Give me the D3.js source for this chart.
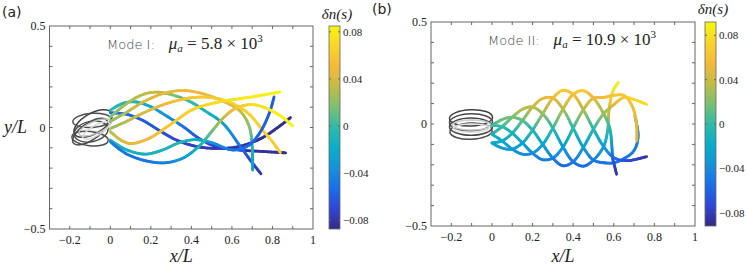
<!DOCTYPE html>
<html>
<head>
<meta charset="utf-8">
<script src="https://cdn.jsdelivr.net/npm/d3@7"></script>
<style>
  body { margin: 0; background: #fff; }
  text { fill: #222; }
</style>
</head>
<body>
<svg id="chart" width="748" height="266"></svg>
<script>
// ---- data: each point is [x/L, y/L, dn(s)] ----
const xTicks = [-0.2, 0, 0.2, 0.4, 0.6, 0.8, 1];
const yTicks = [-0.5, 0, 0.5];
const cbTicks = [-0.08, -0.04, 0, 0.04, 0.08];

// Mode I snapshots
const curvesA = [
  [[0,0.072,-0.05],[0.076,0.066,-0.055],[0.158,0.036,-0.06],[0.239,-0.013,-0.065],[0.32,-0.059,-0.07],[0.418,-0.092,-0.075],[0.515,-0.103,-0.08],[0.629,-0.095,-0.082],[0.743,-0.054,-0.084],[0.841,0.011,-0.085],[0.889,0.049,-0.085]],
  [[0,0.085,-0.005],[0.06,0.118,-0.008],[0.125,0.126,-0.01],[0.2,0.102,-0.02],[0.28,0.055,-0.035],[0.361,0.003,-0.05],[0.44,-0.055,-0.065],[0.524,-0.095,-0.075],[0.637,-0.111,-0.08],[0.75,-0.118,-0.083],[0.865,-0.125,-0.085]],
  [[0,0.052,0.015],[0.07,0.11,0.025],[0.15,0.158,0.032],[0.22,0.174,0.035],[0.3,0.162,0.02],[0.393,0.128,0.0],[0.47,0.08,-0.01],[0.556,0.02,-0.025],[0.637,-0.087,-0.05],[0.69,-0.16,-0.07],[0.743,-0.228,-0.08]],
  [[0,0.03,0.02],[0.08,0.075,0.03],[0.17,0.13,0.04],[0.27,0.17,0.045],[0.361,0.182,0.05],[0.45,0.168,0.048],[0.524,0.143,0.044],[0.6,0.108,0.04],[0.646,0.075,0.035],[0.686,0.003,0.02],[0.7,-0.095,-0.005],[0.702,-0.21,-0.03]],
  [[0,-0.005,0.02],[0.08,0.03,0.03],[0.17,0.075,0.04],[0.27,0.115,0.05],[0.36,0.14,0.055],[0.45,0.15,0.06],[0.54,0.14,0.062],[0.62,0.11,0.064],[0.686,0.065,0.065],[0.751,-0.013,0.065],[0.8,-0.07,0.064],[0.839,-0.124,0.063]],
  [[0,-0.02,0.03],[0.052,-0.062,0.04],[0.101,-0.079,0.045],[0.19,-0.054,0.05],[0.304,0.02,0.06],[0.41,0.09,0.066],[0.548,0.128,0.072],[0.694,0.15,0.08],[0.837,0.175,0.085]],
  [[0,-0.062,-0.01],[0.08,-0.11,-0.012],[0.174,-0.131,-0.012],[0.26,-0.11,-0.01],[0.34,-0.075,-0.005],[0.42,-0.06,-0.015],[0.5,-0.075,-0.035],[0.605,-0.111,-0.05],[0.68,-0.09,-0.055],[0.735,-0.03,-0.058],[0.784,0.069,-0.06],[0.808,0.151,-0.06]],
  [[0,-0.07,-0.045],[0.08,-0.13,-0.05],[0.18,-0.165,-0.05],[0.272,-0.174,-0.045],[0.36,-0.15,-0.03],[0.44,-0.09,-0.01],[0.5,-0.02,0.01],[0.56,0.05,0.035],[0.62,0.095,0.055],[0.7,0.113,0.07],[0.78,0.09,0.078],[0.85,0.05,0.083],[0.899,0.007,0.085]]
];

// Mode II snapshots
const curvesB = [
  [[0,-0.05,-0.01],[0.05,-0.013,0.001],[0.1,0.033,0.018],[0.15,0.072,0.033],[0.2,0.083,0.037],[0.25,0.05,0.024],[0.3,-0.02,-0.001],[0.35,-0.113,-0.029],[0.4,-0.185,-0.05],[0.45,-0.207,-0.057],[0.5,-0.177,-0.048],[0.55,-0.11,-0.028],[0.57,-0.03,0.0],[0.575,0.05,0.035],[0.585,0.12,0.065],[0.6,0.17,0.082],[0.622,0.203,0.09]],
  [[0,-0.093,-0.023],[0.05,-0.083,-0.02],[0.1,-0.045,-0.009],[0.15,0.017,0.012],[0.2,0.083,0.037],[0.25,0.125,0.052],[0.3,0.127,0.053],[0.35,0.073,0.033],[0.4,-0.02,-0.001],[0.45,-0.115,-0.03],[0.5,-0.177,-0.048],[0.55,-0.19,-0.052],[0.6,-0.19,-0.052],[0.65,-0.17,-0.05],[0.7,-0.13,-0.048],[0.72,-0.06,-0.047],[0.704,0.039,-0.045]],
  [[0,-0.093,-0.023],[0.05,-0.118,-0.03],[0.1,-0.123,-0.032],[0.15,-0.093,-0.023],[0.2,-0.03,-0.004],[0.25,0.05,0.024],[0.3,0.127,0.053],[0.35,0.165,0.068],[0.4,0.145,0.06],[0.45,0.07,0.032],[0.5,-0.025,-0.003],[0.55,-0.11,-0.028],[0.6,-0.165,-0.05],[0.663,-0.18,-0.07],[0.762,-0.16,-0.085]],
  [[0,-0.05,-0.01],[0.05,-0.083,-0.02],[0.1,-0.123,-0.032],[0.15,-0.148,-0.039],[0.2,-0.143,-0.038],[0.25,-0.1,-0.025],[0.3,-0.02,-0.001],[0.35,0.073,0.033],[0.4,0.145,0.06],[0.45,0.163,0.067],[0.5,0.127,0.053],[0.55,0.05,0.024],[0.58,-0.02,0.0],[0.59,-0.1,-0.03],[0.595,-0.17,-0.06],[0.605,-0.21,-0.075],[0.614,-0.247,-0.085]],
  [[0,-0.007,0.003],[0.05,-0.013,0.001],[0.1,-0.045,-0.009],[0.15,-0.093,-0.023],[0.2,-0.143,-0.038],[0.25,-0.175,-0.048],[0.3,-0.167,-0.045],[0.35,-0.113,-0.029],[0.4,-0.02,-0.001],[0.45,0.07,0.032],[0.5,0.127,0.053],[0.55,0.13,0.056],[0.6,0.14,0.062],[0.65,0.14,0.066],[0.69,0.09,0.06],[0.712,0.0,0.05],[0.713,-0.083,0.045]],
  [[0,-0.007,0.003],[0.05,0.022,0.014],[0.1,0.033,0.018],[0.15,0.017,0.012],[0.2,-0.03,-0.004],[0.25,-0.1,-0.025],[0.3,-0.167,-0.045],[0.35,-0.205,-0.057],[0.4,-0.185,-0.05],[0.45,-0.115,-0.03],[0.5,-0.025,-0.003],[0.55,0.05,0.024],[0.6,0.095,0.045],[0.65,0.13,0.065],[0.7,0.12,0.074],[0.762,0.096,0.08]]
];

// cell body outlines: [cx, cy, rx, ry, angle (deg), grey level]
const headsA = [
  [-0.085, 0.02, 0.105, 0.05, 30, 0.25],
  [-0.1, -0.02, 0.1, 0.042, 34, 0.3],
  [-0.09, 0.035, 0.095, 0.035, 4, 0.3],
  [-0.1, -0.055, 0.09, 0.035, -6, 0.3],
  [-0.095, -0.02, 0.085, 0.05, 12, 0.3],
  [-0.075, 0.0, 0.085, 0.03, 22, 0.75],
  [-0.07, -0.015, 0.075, 0.025, 30, 0.85]
];
const headsB = [
  [-0.103, 0.03, 0.106, 0.04, 2, 0.25],
  [-0.103, 0.008, 0.106, 0.042, 1, 0.28],
  [-0.103, -0.013, 0.106, 0.042, 0, 0.28],
  [-0.103, -0.035, 0.104, 0.04, 2, 0.3],
  [-0.1, -0.005, 0.095, 0.025, 0, 0.78],
  [-0.1, -0.02, 0.09, 0.02, 0, 0.88]
];

// ---- parula colour map ----
const parula = d3.piecewise(d3.interpolateRgb, [
  "#352a87", "#2f46d6", "#1a6ee8", "#1492db", "#0aadc9",
  "#2fbaa6", "#7cc072", "#c2bc45", "#f5b93a", "#f9d52a", "#f7f50f"
]);

const svg = d3.select("#chart");

function panel(opt) {
  const x = d3.scaleLinear().domain([-0.3, 1]).range([opt.left, opt.right]);
  const y = d3.scaleLinear().domain([-0.5, 0.5]).range([opt.bottom, opt.top]);
  const col = d3.scaleSequential(parula).domain(opt.cbDomain);
  const g = svg.append("g");

  // box + ticks every 0.1
  const frame = "#666";
  g.append("rect")
    .attr("x", opt.left).attr("y", opt.top)
    .attr("width", opt.right - opt.left).attr("height", opt.bottom - opt.top)
    .attr("fill", "none").attr("stroke", frame).attr("stroke-width", 1);

  const tl = 3;
  const minorX = d3.range(-2, 10).map(i => i / 10);
  const minorY = d3.range(-4, 5).map(i => i / 10);
  minorX.forEach(v => {
    g.append("line").attr("x1", x(v)).attr("x2", x(v)).attr("y1", opt.bottom).attr("y2", opt.bottom - tl).attr("stroke", frame);
    g.append("line").attr("x1", x(v)).attr("x2", x(v)).attr("y1", opt.top).attr("y2", opt.top + tl).attr("stroke", frame);
  });
  minorY.forEach(v => {
    g.append("line").attr("y1", y(v)).attr("y2", y(v)).attr("x1", opt.left).attr("x2", opt.left + tl).attr("stroke", frame);
    g.append("line").attr("y1", y(v)).attr("y2", y(v)).attr("x1", opt.right).attr("x2", opt.right - tl).attr("stroke", frame);
  });

  g.selectAll(".xt").data(xTicks).enter().append("text")
    .attr("x", d => x(d)).attr("y", opt.bottom + 15)
    .attr("text-anchor", "middle")
    .style("font", "12px 'Liberation Serif', serif")
    .text(d => d3.format("")(d));
  g.selectAll(".yt").data(yTicks).enter().append("text")
    .attr("x", opt.left - 4).attr("y", d => y(d) + 4)
    .attr("text-anchor", "end")
    .style("font", "12px 'Liberation Serif', serif")
    .text(d => d3.format("")(d));

  g.append("text")
    .attr("x", (opt.left + opt.right) / 2).attr("y", 262)
    .attr("text-anchor", "middle")
    .style("font", "italic 18px 'Liberation Serif', serif")
    .text("x/L");

  // cell body
  opt.heads.forEach(h => {
    const v = Math.round(255 * h[5]);
    g.append("ellipse")
      .attr("cx", 0).attr("cy", 0)
      .attr("rx", x(h[2]) - x(0)).attr("ry", y(0) - y(h[3]))
      .attr("transform", `translate(${x(h[0])},${y(h[1])}) rotate(${-h[4]})`)
      .attr("fill", "none")
      .attr("stroke", d3.rgb(v, v, v))
      .attr("stroke-width", 1.5);
  });

  // filaments, coloured along their length
  const line = d3.line().x(d => x(d[0])).y(d => y(d[1])).curve(d3.curveCatmullRom.alpha(0.5));
  opt.curves.forEach(c => {
    const tmp = g.append("path").attr("d", line(c)).attr("fill", "none");
    const node = tmp.node();
    const L = node.getTotalLength();
    const cum = [0];
    for (let i = 1; i < c.length; i++) cum.push(cum[i - 1] + Math.hypot(x(c[i][0]) - x(c[i - 1][0]), y(c[i][1]) - y(c[i - 1][1])));
    const cs = d3.scaleLinear().domain(cum.map(v => v / cum[cum.length - 1] * L)).range(c.map(d => d[2]));
    const n = Math.ceil(L / 2);
    let prev = node.getPointAtLength(0);
    for (let k = 1; k <= n; k++) {
      const s = k / n * L;
      const p = node.getPointAtLength(s);
      g.append("line")
        .attr("x1", prev.x).attr("y1", prev.y).attr("x2", p.x).attr("y2", p.y)
        .attr("stroke", col(cs(s - L / n / 2)))
        .attr("stroke-width", 2.8).attr("stroke-linecap", "round");
      prev = p;
    }
    tmp.remove();
  });

  // annotation
  const ann = g.append("text").attr("x", opt.annX).attr("y", opt.top + 23);
  ann.append("tspan").style("font", "13px 'DejaVu Sans', sans-serif").style("font-weight", 300).style("fill", "#444").text(opt.mode);
  ann.append("tspan").attr("dx", 14).style("font", "italic 17px 'Liberation Serif', serif").text("μ");
  ann.append("tspan").attr("dy", 3).style("font", "italic 11px 'Liberation Serif', serif").text("a");
  ann.append("tspan").attr("dy", -3).style("font", "17px 'Liberation Serif', serif").text(" = " + opt.mu + " × 10");
  ann.append("tspan").attr("dy", -7).style("font", "11px 'Liberation Serif', serif").text("3");

  // colour bar
  const cy = d3.scaleLinear().domain(opt.cbDomain).range([opt.bottom, opt.top]);
  const gid = "grad" + opt.id;
  const grad = svg.append("defs").append("linearGradient").attr("id", gid)
    .attr("x1", 0).attr("y1", 1).attr("x2", 0).attr("y2", 0);
  d3.range(0, 1.0001, 0.05).forEach(t => grad.append("stop").attr("offset", t).attr("stop-color", parula(t)));
  g.append("rect").attr("x", opt.cbX).attr("y", opt.top).attr("width", 11).attr("height", opt.bottom - opt.top)
    .attr("fill", `url(#${gid})`).attr("stroke", frame).attr("stroke-width", 0.8);
  cbTicks.forEach(v => {
    g.append("line").attr("x1", opt.cbX).attr("x2", opt.cbX + 2).attr("y1", cy(v)).attr("y2", cy(v)).attr("stroke", frame);
    g.append("line").attr("x1", opt.cbX + 11).attr("x2", opt.cbX + 9).attr("y1", cy(v)).attr("y2", cy(v)).attr("stroke", frame);
    g.append("text").attr("x", opt.cbX + 14).attr("y", cy(v) + 4)
      .style("font", "11px 'Liberation Serif', serif").text(v === 0 ? "0" : d3.format(".2f")(v));
  });
  g.append("text").attr("x", opt.cbX + 8).attr("y", opt.cbLabelY)
    .attr("text-anchor", "middle")
    .style("font", "italic 15px 'Liberation Serif', serif").text("δn(s)");

  g.append("text").attr("x", opt.tagX).attr("y", opt.tagY)
    .style("font", "14px 'DejaVu Sans', sans-serif").text(opt.tag);
}

panel({ id: "a", left: 49.5, right: 313, top: 26, bottom: 229, cbX: 329, cbDomain: [-0.0877, 0.085], cbLabelY: 19,
  curves: curvesA, heads: headsA, mode: "Mode I:", mu: "5.8", annX: 107, tag: "(a)", tagX: 2, tagY: 17 });
panel({ id: "b", left: 431, right: 695, top: 22, bottom: 226, cbX: 705, cbDomain: [-0.092, 0.092], cbLabelY: 14,
  curves: curvesB, heads: headsB, mode: "Mode II:", mu: "10.9", annX: 488, tag: "(b)", tagX: 372, tagY: 14 });

svg.append("text").attr("x", 4).attr("y", 133)
  .style("font", "italic 18px 'Liberation Serif', serif").text("y/L");
</script>
</body>
</html>
